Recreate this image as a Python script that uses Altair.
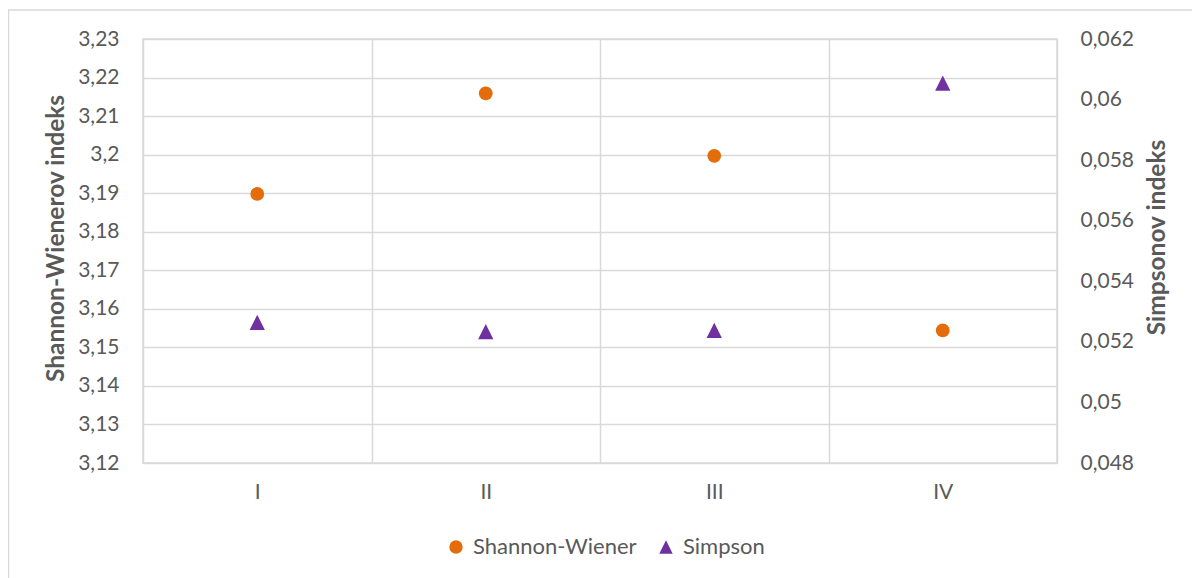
import altair as alt
import pandas as pd

# ---- data ----
categories = ["I", "II", "III", "IV"]
series_names = ["Shannon-Wiener", "Simpson"]
shannon = [3.1898, 3.2159, 3.1997, 3.1544]
simpson = [0.05264, 0.05234, 0.05238, 0.06054]
left_ticks = [3.12, 3.13, 3.14, 3.15, 3.16, 3.17, 3.18, 3.19, 3.20, 3.21, 3.22, 3.23]
right_ticks = [0.048, 0.050, 0.052, 0.054, 0.056, 0.058, 0.060, 0.062]

rows = []
for c, v in zip(categories, shannon):
    rows.append({"kategorija": c, "serija": series_names[0], "vrijednost": v})
for c, v in zip(categories, simpson):
    rows.append({"kategorija": c, "serija": series_names[1], "vrijednost": v})
df = pd.DataFrame(rows)

FONT = "Lato"
GRAY = "#595959"
GRID = "#d9d9d9"
ORANGE = "#E46C0A"
PURPLE = "#7030A0"
TRI = "M0,-1L1,1L-1,1Z"
LABEL_EXPR = "replace(format(datum.value, '.6~g'), '.', ',')"

legend = alt.Legend(
    title=None, orient="none", legendX=302, legendY=497, direction="horizontal",
    labelFont=FONT, labelFontSize=22, labelColor=GRAY, labelLimit=400, symbolSize=180,
    columnPadding=18, labelOffset=6, symbolStrokeWidth=0,
)
color = alt.Color("serija:N", scale=alt.Scale(domain=series_names, range=[ORANGE, PURPLE]), legend=legend)
shape = alt.Shape("serija:N", scale=alt.Scale(domain=series_names, range=["circle", TRI]), legend=legend)

x = alt.X(
    "kategorija:N", sort=categories,
    scale=alt.Scale(paddingInner=0, paddingOuter=0),
    axis=alt.Axis(
        title=None, labelAngle=0, ticks=False, domain=False, grid=True,
        gridColor=GRID, gridWidth=1.5, tickBand="extent", labelPadding=18,
        labelFont=FONT, labelFontSize=21, labelColor=GRAY,
    ),
)

base = alt.Chart(df)

left = base.transform_filter(alt.datum.serija == series_names[0]).mark_point(
    filled=True, size=190, opacity=1
).encode(
    x=x,
    y=alt.Y(
        "vrijednost:Q",
        scale=alt.Scale(domain=[3.12, 3.23], nice=False, zero=False),
        axis=alt.Axis(
            values=left_ticks, labelExpr=LABEL_EXPR, orient="left",
            title="Shannon-Wienerov indeks", grid=True, gridColor=GRID, gridWidth=1.5,
            ticks=False, domain=False, labelPadding=24,
            labelFont=FONT, labelFontSize=21, labelColor=GRAY,
            titleFont=FONT, titleFontSize=24.5, titleFontWeight="bold", titleColor=GRAY,
            titleAngle=270, titleX=-87, titleY=199, titleAlign="center", titleBaseline="middle",
        ),
    ),
    color=color,
    shape=shape,
)

right = base.transform_filter(alt.datum.serija == series_names[1]).mark_point(
    filled=True, size=234, opacity=1
).encode(
    x=x,
    y=alt.Y(
        "vrijednost:Q",
        scale=alt.Scale(domain=[0.048, 0.062], nice=False, zero=False),
        axis=alt.Axis(
            values=right_ticks, labelExpr=LABEL_EXPR, orient="right",
            title="Simpsonov indeks", grid=False,
            ticks=False, domain=False, labelPadding=23,
            labelFont=FONT, labelFontSize=21, labelColor=GRAY,
            titleFont=FONT, titleFontSize=24.5, titleFontWeight="bold", titleColor=GRAY,
            titleAngle=270, titleX=100, titleY=198, titleAlign="center", titleBaseline="middle",
        ),
    ),
    color=color,
    shape=shape,
)

frame = alt.Chart(pd.DataFrame({"k": [0]})).mark_rect(
    fillOpacity=0, stroke=GRID, strokeWidth=1.5
).encode(
    x=alt.value(-134.5), x2=alt.value(1300), y=alt.value(-29), y2=alt.value(700)
)

chart = alt.layer(frame, left, right).resolve_scale(y="independent").properties(
    width=914, height=424,
    autosize=alt.AutoSizeParams(type="none"),
    padding={"left": 135, "top": 31, "right": 135, "bottom": 115},
).configure_view(stroke=GRID, strokeWidth=1.5)

chart.save("out.html", embed_options={"renderer": "svg", "actions": False})
